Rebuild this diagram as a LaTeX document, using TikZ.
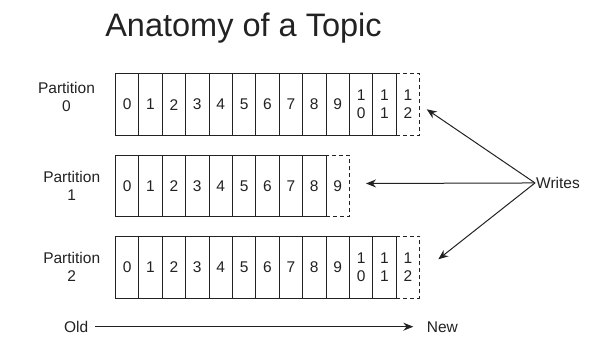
\documentclass[tikz,border=0pt]{standalone}
\usepackage{fontspec}
\setmainfont{Liberation Sans}
\usetikzlibrary{arrows.meta}
\definecolor{ink}{HTML}{222222}
\tikzset{
  cell/.style={draw=ink, line width=0.8pt, minimum width=23.4pt, minimum height=61.5pt,
    inner sep=0pt, anchor=north west, align=center, text=ink,
    font=\fontsize{15.5}{18}\selectfont},
  newcell/.style={cell, dash pattern=on 4pt off 3pt},
  plabel/.style={align=center, text=ink, inner sep=0pt, font=\fontsize{15.5}{18}\selectfont},
  wlabel/.style={text=ink, inner sep=0pt, font=\fontsize{15.5}{18}\selectfont},
  wire/.style={draw=ink, line width=1pt, -{Stealth[length=10pt,width=8pt]}},
}
\begin{document}
\begin{tikzpicture}[x=1pt,y=-1pt]
\useasboundingbox (0,0) rectangle (594,347);
% title
\node[anchor=base, text=ink, inner sep=0pt, font=\fontsize{32.5}{36}\selectfont] (title) at (243.5,37) {Anatomy of a Topic};
% partition labels
\node[plabel] (lab0) at (66.5,97) {Partition\\0};
\node[plabel] (lab1) at (71.7,185.5) {Partition\\1};
\node[plabel] (lab2) at (71.7,266.5) {Partition\\2};
% partition 0
\node[newcell] (p0c12) at (115+12*23.4,73.5) {1\\2};
\foreach \i in {0,...,9}{\node[cell] (p0c\i) at (115+\i*23.4,73.5) {\i};}
\node[cell] (p0c10) at (115+10*23.4,73.5) {1\\0};
\node[cell] (p0c11) at (115+11*23.4,73.5) {1\\1};
% partition 1
\node[newcell] (p1c9) at (115+9*23.4,155) {9};
\foreach \i in {0,...,8}{\node[cell] (p1c\i) at (115+\i*23.4,155) {\i};}
% partition 2
\node[newcell] (p2c12) at (115+12*23.4,236) {1\\2};
\foreach \i in {0,...,9}{\node[cell] (p2c\i) at (115+\i*23.4,236) {\i};}
\node[cell] (p2c10) at (115+10*23.4,236) {1\\0};
\node[cell] (p2c11) at (115+11*23.4,236) {1\\1};
% writes
\node[wlabel, anchor=base west] (writes) at (536,188.5) {Writes};
\coordinate (t0) at (426.7,109.3);
\coordinate (t1) at (366,183.5);
\coordinate (t2) at (438.3,259.3);
\coordinate (ws) at ([xshift=-1pt]writes.west);
\draw[wire] (ws) -- (t0);
\draw[wire] (ws) -- (t1);
\draw[wire] (ws) -- (t2);
% old -> new
\node[wlabel, anchor=base east] (old) at (88.5,332) {Old};
\node[wlabel, anchor=base west] (new) at (426.7,332) {New};
\coordinate (oldend) at (95,326.7);
\coordinate (newend) at (413.3,326.7);
\draw[wire] (oldend) -- (newend);
\end{tikzpicture}
\end{document}
